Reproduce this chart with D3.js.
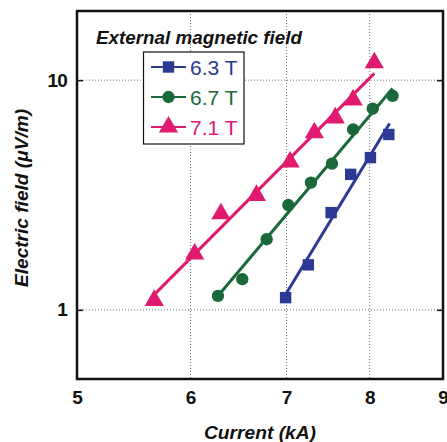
<!DOCTYPE html>
<html>
<head>
<meta charset="utf-8">
<script src="https://cdn.jsdelivr.net/npm/d3@7"></script>
<style>
  body { margin: 0; background: #fff; }
  text { font-family: "Liberation Sans", Arial, sans-serif; }
</style>
</head>
<body>
<svg id="chart" width="447" height="442"></svg>
<script>
// data
const series = ["6.3 T", "6.7 T", "7.1 T"];
const colors = ["#2b3a93", "#19693a", "#e01a6e"];
const symbols = [d3.symbolSquare, d3.symbolCircle, d3.symbolTriangle];

const current63 = [6.99, 7.25, 7.52, 7.76, 8.01, 8.25];
const field63 = [1.13, 1.57, 2.65, 3.89, 4.6, 5.8];
const current67 = [6.27, 6.52, 6.78, 7.02, 7.28, 7.53, 7.79, 8.04, 8.30];
const field67 = [1.15, 1.36, 2.03, 2.86, 3.58, 4.33, 6.1, 7.51, 8.55];
const current71 = [5.66, 6.04, 6.30, 6.67, 7.04, 7.32, 7.57, 7.79, 8.06];
const field71 = [1.1, 1.75, 2.62, 3.15, 4.4, 5.9, 6.85, 8.2, 11.9];

// fitted lines, end points
const fitCurrent63 = [7.0, 8.26];
const fitField63 = [1.185, 6.47];
const fitCurrent67 = [6.27, 8.3];
const fitField67 = [1.15, 9.2];
const fitCurrent71 = [5.66, 8.06];
const fitField71 = [1.165, 10.7];

const xTicks = [5, 6, 7, 8, 9];
const yTicks = [1, 10];
const xGrid = [6, 7, 8];

const width = 447, height = 442;
const margin = { top: 11, right: 4, bottom: 63, left: 77 };

const svg = d3.select("#chart");

const x = d3.scaleLog().domain([5, 9]).range([margin.left, width - margin.right]);
const y = d3.scaleLog().domain([0.5, 20]).range([height - margin.bottom, margin.top]);

const points = [
    current63.map((c, i) => ({ x: c, y: field63[i] })),
    current67.map((c, i) => ({ x: c, y: field67[i] })),
    current71.map((c, i) => ({ x: c, y: field71[i] }))
];
const fits = [
    fitCurrent63.map((c, i) => ({ x: c, y: fitField63[i] })),
    fitCurrent67.map((c, i) => ({ x: c, y: fitField67[i] })),
    fitCurrent71.map((c, i) => ({ x: c, y: fitField71[i] }))
];

// grid
svg.append("g")
    .selectAll("line")
    .data(xGrid)
    .join("line")
    .attr("x1", d => x(d)).attr("x2", d => x(d))
    .attr("y1", y(20)).attr("y2", y(0.5))
    .attr("stroke", "#777")
    .attr("stroke-width", 1)
    .attr("stroke-dasharray", "1,2");

svg.append("g")
    .selectAll("line")
    .data(yTicks)
    .join("line")
    .attr("x1", x(5)).attr("x2", x(9))
    .attr("y1", d => y(d)).attr("y2", d => y(d))
    .attr("stroke", "#777")
    .attr("stroke-width", 1)
    .attr("stroke-dasharray", "1,2");

// axes with inward ticks
const xAxisG = svg.append("g")
    .attr("transform", `translate(0,${height - margin.bottom})`)
    .call(d3.axisBottom(x).tickValues(xTicks).tickFormat(d3.format("d")).tickSize(0).tickPadding(12));
xAxisG.select(".domain").remove();
xAxisG.selectAll("text")
    .attr("font-size", 19)
    .attr("font-weight", "bold")
    .attr("fill", "#111");

const yAxisG = svg.append("g")
    .attr("transform", `translate(${margin.left},0)`)
    .call(d3.axisRight(y).tickValues(yTicks).tickFormat(d3.format("d")).tickSize(6));
yAxisG.select(".domain").remove();
yAxisG.selectAll("line").attr("stroke", "#111").attr("stroke-width", 1.5);
yAxisG.selectAll("text")
    .attr("x", -10)
    .attr("text-anchor", "end")
    .attr("font-size", 19)
    .attr("font-weight", "bold")
    .attr("letter-spacing", -0.8)
    .attr("fill", "#111");

const yAxisR = svg.append("g")
    .attr("transform", `translate(${width - margin.right},0)`)
    .call(d3.axisLeft(y).tickValues(yTicks).tickFormat("").tickSize(6));
yAxisR.select(".domain").remove();
yAxisR.selectAll("line").attr("stroke", "#111").attr("stroke-width", 1.5);

// frame
svg.append("rect")
    .attr("x", margin.left)
    .attr("y", margin.top)
    .attr("width", width - margin.left - margin.right)
    .attr("height", height - margin.top - margin.bottom)
    .attr("fill", "none")
    .attr("stroke", "#111")
    .attr("stroke-width", 2.5);

// fitted lines
const line = d3.line().x(d => x(d.x)).y(d => y(d.y));
svg.append("g")
    .selectAll("path")
    .data(fits)
    .join("path")
    .attr("d", line)
    .attr("fill", "none")
    .attr("stroke", (d, i) => colors[i])
    .attr("stroke-width", 3);

// markers
const markerSize = [130, 120, 160];
points.forEach((pts, i) => {
    svg.append("g")
        .selectAll("path")
        .data(pts)
        .join("path")
        .attr("transform", d => `translate(${x(d.x)},${y(d.y)})`)
        .attr("d", d3.symbol().type(symbols[i]).size(markerSize[i]))
        .attr("fill", colors[i]);
});

// legend
svg.append("text")
    .attr("x", 96)
    .attr("y", 44)
    .attr("font-size", 19)
    .attr("font-style", "italic")
    .attr("font-weight", "bold")
    .attr("fill", "#111")
    .attr("textLength", 206)
    .attr("lengthAdjust", "spacingAndGlyphs")
    .text("External magnetic field");

svg.append("rect")
    .attr("x", 143.5)
    .attr("y", 52)
    .attr("width", 100.5)
    .attr("height", 92)
    .attr("fill", "#fff")
    .attr("stroke", "#111")
    .attr("stroke-width", 1.2);

const legend = svg.append("g")
    .selectAll("g")
    .data(series)
    .join("g")
    .attr("transform", (d, i) => `translate(151,${67 + i * 30})`);

legend.append("line")
    .attr("x1", 0).attr("x2", 35)
    .attr("stroke", (d, i) => colors[i])
    .attr("stroke-width", 2);
legend.append("path")
    .attr("transform", "translate(17.5,0)")
    .attr("d", (d, i) => d3.symbol().type(symbols[i]).size(markerSize[i])())
    .attr("fill", (d, i) => colors[i]);
legend.append("text")
    .attr("x", 39)
    .attr("dy", "0.36em")
    .attr("font-size", 21)
    .attr("fill", (d, i) => colors[i])
    .text(d => d);

// axis titles
svg.append("text")
    .attr("x", 260)
    .attr("y", 439)
    .attr("text-anchor", "middle")
    .attr("font-size", 19)
    .attr("font-style", "italic")
    .attr("font-weight", "bold")
    .attr("fill", "#111")
    .attr("textLength", 112)
    .attr("lengthAdjust", "spacingAndGlyphs")
    .text("Current (kA)");

svg.append("text")
    .attr("transform", "translate(28,198) rotate(-90)")
    .attr("text-anchor", "middle")
    .attr("font-size", 19)
    .attr("font-style", "italic")
    .attr("font-weight", "bold")
    .attr("fill", "#111")
    .attr("textLength", 178)
    .attr("lengthAdjust", "spacingAndGlyphs")
    .text("Electric field (μV/m)");
</script>
</body>
</html>
